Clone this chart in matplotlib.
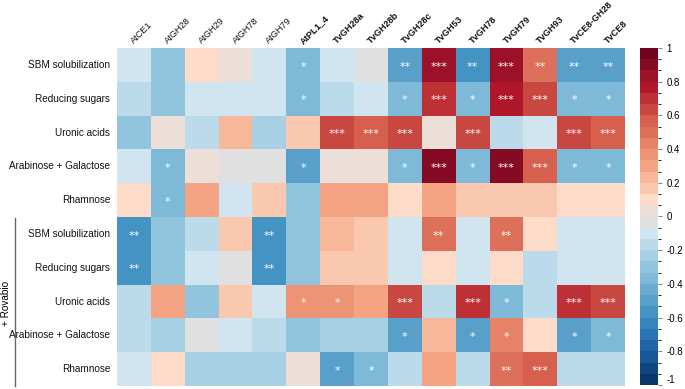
import numpy as np
import matplotlib
matplotlib.use("Agg")
import matplotlib.pyplot as plt
from matplotlib.colors import LinearSegmentedColormap, ListedColormap, BoundaryNorm

plt.rcParams["font.family"] = ["Liberation Sans Narrow", "Liberation Sans", "DejaVu Sans"]

enzimas = ["AtCE1", "AtGH28", "AtGH29", "AtGH78", "AtGH79", "AtPL1_4",
           "TvGH28a", "TvGH28b", "TvGH28c", "TvGH53", "TvGH78", "TvGH79",
           "TvGH93", "TvCE8-GH28", "TvCE8"]
negrita = [False, False, False, False, False, True,
           True, True, True, True, True, True, True, True, True]

filas = ["SBM solubilization", "Reducing sugars", "Uronic acids",
         "Arabinose + Galactose", "Rhamnose",
         "SBM solubilization", "Reducing sugars", "Uronic acids",
         "Arabinose + Galactose", "Rhamnose"]

# correlaciones
r_sbm = [-0.10, -0.30, 0.10, 0.03, -0.10, -0.37, -0.10, -0.03, -0.48, 0.83, -0.57, 0.83, 0.50, -0.48, -0.48]
r_red = [-0.17, -0.30, -0.10, -0.10, -0.10, -0.37, -0.17, -0.10, -0.37, 0.70, -0.37, 0.77, 0.63, -0.37, -0.37]
r_uro = [-0.30, 0.03, -0.17, 0.23, -0.23, 0.17, 0.63, 0.57, 0.63, 0.03, 0.63, -0.17, -0.10, 0.63, 0.57]
r_ara = [-0.10, -0.37, 0.03, -0.03, -0.03, -0.48, 0.03, 0.03, -0.37, 0.90, -0.37, 0.90, 0.57, -0.37, -0.37]
r_rha = [0.10, -0.37, 0.30, -0.10, 0.15, -0.30, 0.30, 0.30, 0.10, 0.30, 0.17, 0.17, 0.17, 0.10, 0.10]
rv_sbm = [-0.57, -0.30, -0.17, 0.17, -0.57, -0.30, 0.23, 0.17, -0.10, 0.50, -0.10, 0.50, 0.10, -0.10, -0.10]
rv_red = [-0.57, -0.30, -0.10, -0.03, -0.57, -0.30, 0.17, 0.17, -0.10, 0.10, -0.10, 0.10, -0.17, -0.10, -0.10]
rv_uro = [-0.17, 0.30, -0.30, 0.17, -0.10, 0.37, 0.37, 0.30, 0.63, -0.17, 0.70, -0.37, -0.17, 0.70, 0.63]
rv_ara = [-0.17, -0.23, -0.03, -0.10, -0.17, -0.30, -0.23, -0.23, -0.48, 0.23, -0.48, 0.43, 0.10, -0.48, -0.37]
rv_rha = [-0.10, 0.10, -0.23, -0.23, -0.23, 0.03, -0.48, -0.37, -0.17, 0.30, -0.17, 0.50, 0.57, -0.17, -0.17]

# significancia
s_sbm = ["", "", "", "", "", "*", "", "", "**", "***", "**", "***", "**", "**", "**"]
s_red = ["", "", "", "", "", "*", "", "", "*", "***", "*", "***", "***", "*", "*"]
s_uro = ["", "", "", "", "", "", "***", "***", "***", "", "***", "", "", "***", "***"]
s_ara = ["", "*", "", "", "", "*", "", "", "*", "***", "*", "***", "***", "*", "*"]
s_rha = ["", "*", "", "", "", "", "", "", "", "", "", "", "", "", ""]
sv_sbm = ["**", "", "", "", "**", "", "", "", "", "**", "", "**", "", "", ""]
sv_red = ["**", "", "", "", "**", "", "", "", "", "", "", "", "", "", ""]
sv_uro = ["", "", "", "", "", "*", "*", "", "***", "", "***", "*", "", "***", "***"]
sv_ara = ["", "", "", "", "", "", "", "", "*", "", "*", "*", "", "*", "*"]
sv_rha = ["", "", "", "", "", "", "*", "*", "", "", "", "**", "***", "", ""]

R = np.array([r_sbm, r_red, r_uro, r_ara, r_rha, rv_sbm, rv_red, rv_uro, rv_ara, rv_rha])
S = [s_sbm, s_red, s_uro, s_ara, s_rha, sv_sbm, sv_red, sv_uro, sv_ara, sv_rha]

# paleta RdBu con centro gris, 30 niveles
nodos = [(0.0, "#053061"), (0.117, "#2166AC"), (0.215, "#4393C3"), (0.35, "#92C5DE"),
         (0.45, "#D1E5F0"), (0.483, "#E0E0E0"), (0.517, "#EBDFD8"), (0.55, "#FDDBC7"),
         (0.65, "#F4A582"), (0.785, "#D6604D"), (0.883, "#B2182B"), (1.0, "#67001F")]
base = LinearSegmentedColormap.from_list("rdbu_gris", nodos)
niveles = 30
cmap = ListedColormap(base((np.arange(niveles) + 0.5) / niveles))
limites = np.linspace(-1, 1, niveles + 1)
norm = BoundaryNorm(limites, cmap.N)

fig = plt.figure(figsize=(6.85, 3.89), dpi=100)
ax = fig.add_axes([0.1708, 0.0077, 0.7416, 0.8689])
cax = fig.add_axes([0.934, 0.0103, 0.0263, 0.8663])

n_f, n_c = R.shape
mesh = ax.pcolormesh(np.arange(n_c + 1), np.arange(n_f + 1), R, cmap=cmap, norm=norm,
                     edgecolors="none", antialiased=False)
ax.set_xlim(0, n_c)
ax.set_ylim(n_f, 0)

for i in range(n_f):
    for j in range(n_c):
        if S[i][j]:
            ax.text(j + 0.5, i + 0.55, S[i][j], ha="center", va="center",
                    color="white", fontsize=8, family="DejaVu Sans")

ax.set_xticks([])
ax.set_yticks([])
for sp in ax.spines.values():
    sp.set_visible(False)

for j, nombre in enumerate(enzimas):
    ax.text(j + 0.5, -0.11, nombre, rotation=45, rotation_mode="anchor",
            ha="left", va="baseline", fontsize=6.6, color="#111111",
            fontweight="bold" if negrita[j] else "normal")

for i, nombre in enumerate(filas):
    ax.text(-0.2, i + 0.5, nombre, ha="right", va="center", fontsize=7.2, color="#111111")

# corchete del grupo Rovabio
fig.add_artist(plt.Line2D([0.0219, 0.0219], [0.0077, 0.4396], color="#666666", lw=1))
fig.text(0.009, 0.221, "+ Rovabio", rotation=90, ha="center", va="center", fontsize=7.2)

cb = fig.colorbar(mesh, cax=cax, ticks=np.arange(-1, 1.01, 0.2))
cb.outline.set_visible(False)
cb.ax.tick_params(length=3, width=0.8, color="#888888", labelsize=7, pad=3)
cb.ax.set_yticklabels(["-1", "-0.8", "-0.6", "-0.4", "-0.2", "0", "0.2", "0.4", "0.6", "0.8", "1"])
cb.ax.get_yticklabels()[0].set_verticalalignment("bottom")

fig.savefig("out.png", dpi=100)
